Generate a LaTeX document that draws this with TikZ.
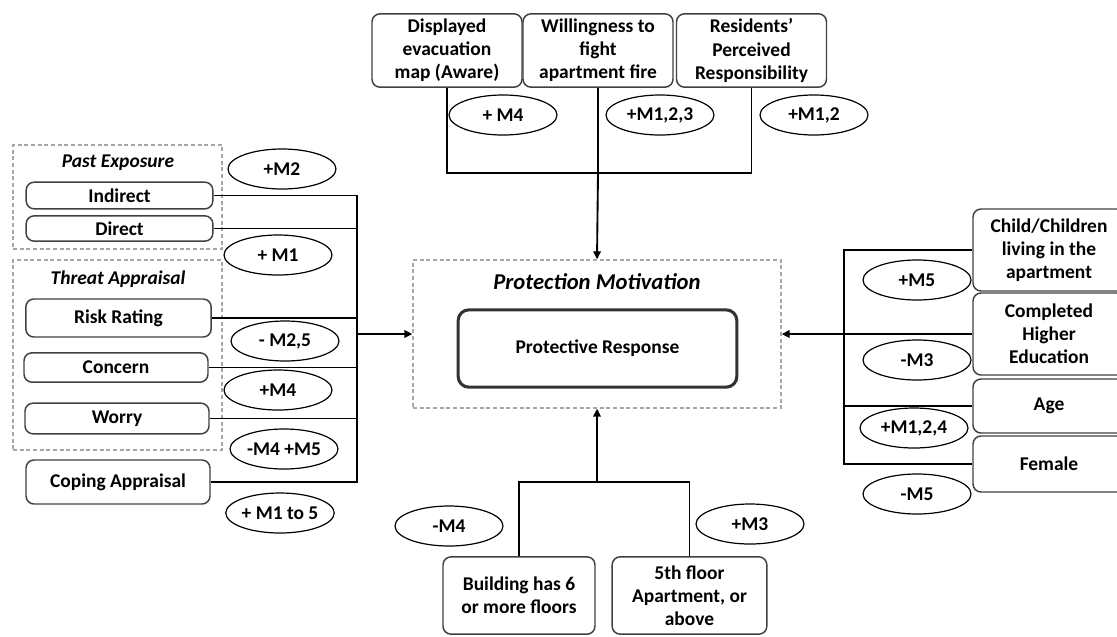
\documentclass[tikz,border=0pt]{standalone}
\usepackage{fontspec}
\setmainfont{Carlito}
\usetikzlibrary{arrows.meta, shapes.geometric}

\begin{document}
\begin{tikzpicture}[
  x=0.75pt, y=-0.75pt,
  txt/.style = {font=\fontsize{14.6}{17.3}\selectfont\bfseries},
  factor/.style = {txt, draw=black!75, line width=1.1pt, rounded corners=6pt, align=center, inner sep=1pt},
  group/.style = {draw=black!35, line width=0.9pt, dash pattern=on 3pt off 2pt, minimum width=156.75pt, inner sep=0pt},
  grouplabel/.style = {font=\fontsize{14.6}{17.3}\selectfont\bfseries\itshape},
  effect/.style = {txt, draw=black, line width=0.9pt, ellipse, minimum width=81pt, minimum height=30pt, inner sep=0pt},
  link/.style = {line width=1.4pt, black},
  arrow/.style = {link, -{Triangle[length=6pt, width=5.5pt]}}
]
  \useasboundingbox (0,0) rectangle (1117,636);

  % Past exposure group
  \node[group, minimum height=78pt] (pastgrp) at (117.5,197) {};
  \node[grouplabel] (pastlbl) at (118,163) {Past Exposure};
  \node[factor, minimum width=140pt, minimum height=20pt] (indirect) at (119.5,195.5) {Indirect};
  \node[factor, minimum width=140pt, minimum height=19pt] (direct) at (119.5,228.5) {Direct};

  % Threat appraisal group
  \node[group, minimum height=142.5pt] (threatgrp) at (117.5,355) {};
  \node[grouplabel] (threatlbl) at (118,279) {Threat Appraisal};
  \node[factor, minimum width=139pt, minimum height=28.5pt] (risk) at (118.5,318) {Risk Rating};
  \node[factor, minimum width=138pt, minimum height=22pt] (concern) at (116,367.5) {Concern};
  \node[factor, minimum width=138pt, minimum height=23pt] (worry) at (117,418.5) {Worry};

  % Coping appraisal
  \node[factor, minimum width=138pt, minimum height=33pt] (coping) at (118,482) {Coping Appraisal};

  % Left effects
  \node[effect] (e-past2) at (282,169) {+M2};
  \node[effect] (e-past1) at (278,255) {+ M1};
  \node[effect] (e-risk) at (285,341) {- M2,5};
  \node[effect] (e-concern) at (278,390) {+M4};
  \node[effect] (e-worry) at (284,449) {-M4 +M5};
  \node[effect] (e-coping) at (280,513) {+ M1 to 5};

  % Top factors
  \node[factor, minimum width=112.5pt, minimum height=55pt] (display) at (447,50.5)
    {Displayed\\evacuation\\map (Aware)};
  \node[factor, minimum width=112.5pt, minimum height=55pt] (willing) at (598,50.5)
    {Willingness to\\fight\\apartment fire};
  \node[factor, minimum width=112.5pt, minimum height=55pt] (duty) at (751.5,50.5)
    {Residents’\\Perceived\\Responsibility};
  \node[effect] (e-display) at (503,115) {+ M4};
  \node[effect] (e-willing) at (660,115) {+M1,2,3};
  \node[effect] (e-duty) at (814,115) {+M1,2};

  % Protection motivation
  \node[group, minimum width=276pt, minimum height=111pt] (pmgrp) at (597,334) {};
  \node[grouplabel, font=\fontsize{17}{20}\selectfont\bfseries\itshape] (pmlbl) at (597,282) {Protection Motivation};
  \node[txt, draw=black!80, line width=2.3pt, rounded corners=8pt, minimum width=209pt, minimum height=58pt]
    (response) at (597.5,348.5) {Protective Response};

  % Bottom factors
  \node[factor, minimum width=114pt, minimum height=58pt] (tall) at (519,595.5)
    {Building has 6\\or more floors};
  \node[factor, minimum width=116pt, minimum height=58pt] (upper) at (689.5,595.5)
    {5th floor\\Apartment, or\\above};
  \node[effect] (e-tall) at (449,526) {-M4};
  \node[effect] (e-upper) at (750,524) {+M3};

  % Right factors
  \node[factor, minimum width=114pt, minimum height=61.5pt] (child) at (1049,250)
    {Child/Children\\living in the\\apartment};
  \node[factor, minimum width=114pt, minimum height=61.5pt] (higher) at (1049,334)
    {Completed\\Higher\\Education};
  \node[factor, minimum width=114pt, minimum height=40.5pt] (age) at (1049,406) {Age};
  \node[factor, minimum width=114pt, minimum height=42pt] (female) at (1049,464) {Female};
  \node[effect] (e-child) at (917,280) {+M5};
  \node[effect] (e-higher) at (917,360) {-M3};
  \node[effect] (e-age) at (914,428) {+M1,2,4};
  \node[effect] (e-female) at (917,494) {-M5};

  % Junctions
  \coordinate (ljoin) at (357,334);
  \coordinate (tjoin) at (598,173);
  \coordinate (bjoin) at (597,482);
  \coordinate (rjoin) at (844,334);

  % Left links
  \foreach \src in {indirect, direct, risk, concern, worry, coping}
    \draw[link] (\src.east) -| (ljoin);
  \draw[arrow] (ljoin) -- (pmgrp.west);

  % Top links
  \draw[link] (display.south) |- (tjoin);
  \draw[link] (duty.south) |- (tjoin);
  \draw[link] (willing.south) -- (tjoin);
  \draw[arrow] (tjoin) -- (pmgrp.north);

  % Bottom links
  \draw[link] (tall.north) |- (bjoin);
  \draw[link] (upper.north) |- (bjoin);
  \draw[arrow] (bjoin) -- (pmgrp.south);

  % Right links
  \foreach \src in {child, age, female}
    \draw[link] (\src.west) -| (rjoin);
  \draw[arrow] (higher.west) -- (pmgrp.east);

\end{tikzpicture}
\end{document}
